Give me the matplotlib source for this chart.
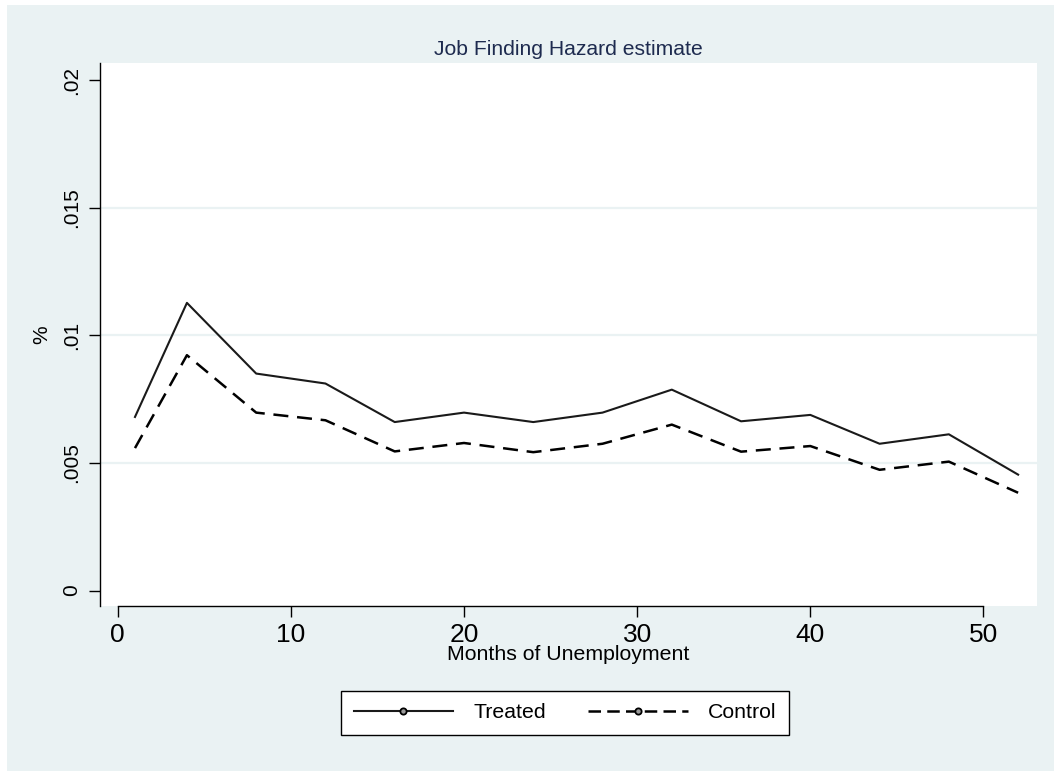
import matplotlib
matplotlib.use("Agg")
import matplotlib.pyplot as plt
from matplotlib.lines import Line2D
from matplotlib.patches import Rectangle
from matplotlib.ticker import FuncFormatter

# hazard estimates by month of unemployment
months = [1, 4, 8, 12, 16, 20, 24, 28, 32, 36, 40, 44, 48, 52]
treated = [0.00680, 0.01127, 0.00850, 0.00811, 0.00660, 0.00697, 0.00660,
           0.00697, 0.00787, 0.00663, 0.00688, 0.00575, 0.00612, 0.00454]
control = [0.00558, 0.00922, 0.00697, 0.00667, 0.00545, 0.00578, 0.00542,
           0.00575, 0.00650, 0.00544, 0.00566, 0.00473, 0.00505, 0.00383]

x_ticks = [0, 10, 20, 30, 40, 50]
y_ticks = [0, 0.005, 0.01, 0.015, 0.02]
grid_levels = [0.005, 0.01, 0.015]

bg = "#EAF2F3"
title_col = "#1E2B4F"
dash = (0, (6, 3.5))

plt.rcParams["font.family"] = ["Liberation Sans", "DejaVu Sans"]

fig = plt.figure(figsize=(10.54, 7.71), dpi=100, facecolor=bg)
# thin white strips along the top and left edges
fig.patches.append(Rectangle((0, 0), 7 / 1054, 1, transform=fig.transFigure,
                             facecolor="white", edgecolor="none", zorder=-10))
fig.patches.append(Rectangle((0, 1 - 5 / 771), 1, 5 / 771, transform=fig.transFigure,
                             facecolor="white", edgecolor="none", zorder=-10))

ax = fig.add_axes([100 / 1054, 1 - 606 / 771, 937 / 1054, (606 - 62.7) / 771])
ax.set_facecolor("white")

for lev in grid_levels:
    ax.axhline(lev, color=bg, lw=1.6, zorder=1)

ax.plot(months, treated, color="#1a1a1a", lw=1.5, zorder=3)
ax.plot(months, control, color="black", lw=1.8, ls=dash, zorder=3)

ax.set_xlim(-1.02, 53.09)
ax.set_ylim(-0.000607, 0.02068)

ax.set_xticks(x_ticks)
ax.set_yticks(y_ticks)
ax.yaxis.set_major_formatter(FuncFormatter(
    lambda v, p: "0" if v == 0 else ("%g" % v).lstrip("0")))

for s in ["top", "right"]:
    ax.spines[s].set_visible(False)
ax.spines["left"].set_linewidth(1.0)
ax.spines["bottom"].set_linewidth(1.0)
ax.spines["bottom"].set_bounds(0, 50)

ax.tick_params(axis="x", direction="out", length=8, width=1.0,
               labelsize=19, pad=4, colors="black")
ax.tick_params(axis="y", direction="out", length=8, width=1.0,
               labelsize=15, pad=5.5, colors="black")
for lab in ax.get_yticklabels():
    lab.set_rotation(90)
    lab.set_va("center")

ax.set_xlabel("Months of Unemployment", fontsize=15.3, labelpad=-1)
ax.set_ylabel("%", fontsize=15, labelpad=8)
ax.set_title("Job Finding Hazard estimate", fontsize=15.2, color=title_col, pad=5.5)

handles = [
    Line2D([], [], color="#1a1a1a", lw=1.5, marker="o", markersize=4.5,
           markerfacecolor="#9a9a9a", markeredgecolor="black", markeredgewidth=1.3),
    Line2D([], [], color="black", lw=1.8, ls=(0, (5, 2.5)), marker="o", markersize=4.5,
           markerfacecolor="#9a9a9a", markeredgecolor="black", markeredgewidth=1.3),
]
leg = fig.legend(handles, ["Treated", "Control"], ncol=2, loc="center",
                 bbox_to_anchor=(565 / 1054, 1 - 713 / 771), fontsize=15.3,
                 frameon=True, fancybox=False, edgecolor="black",
                 facecolor="white", framealpha=1, handlelength=4.7,
                 handletextpad=0.94, columnspacing=1.98, borderpad=0.6)
leg.get_frame().set_linewidth(1.0)

fig.savefig("out.png", dpi=100, facecolor=fig.get_facecolor())
